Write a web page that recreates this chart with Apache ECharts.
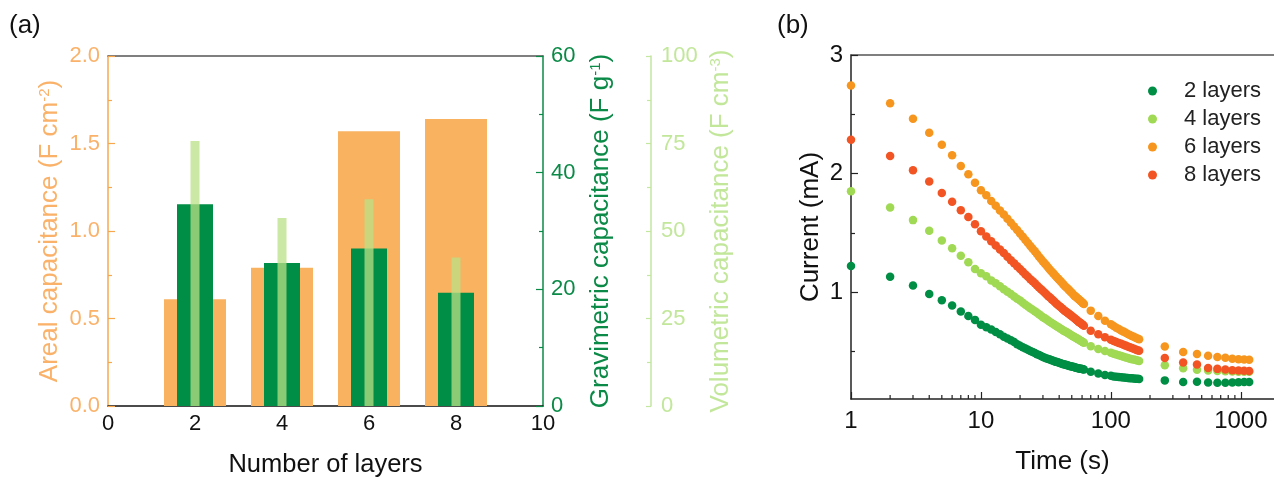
<!DOCTYPE html>
<html><head><meta charset="utf-8">
<script src="https://cdn.jsdelivr.net/npm/echarts@6/dist/echarts.min.js"></script>
<style>html,body{margin:0;padding:0;background:#fff}#c{width:1274px;height:480px}</style>
</head><body><div id="c"></div>
<script>
// ---- Panel (a) data ----
const layers = [2, 4, 6, 8];
const areal = [0.61, 0.79, 1.57, 1.64];          // F cm^-2
const gravimetric = [34.6, 24.5, 27.0, 19.4];     // F g^-1
const volumetric = [75.7, 53.7, 59.1, 42.4];      // F cm^-3

// ---- Panel (b) data ----
const times = [1,2,3,4,5,6,7,8,9,10,11,12,13,14,15,16,17,18,19,20,
  21,22,23,24,25,26,27,28,29,30,31,32,33,34,35,36,37,38,39,40,
  41,42,43,44,45,46,47,48,49,50,51,52,53,54,55,56,57,58,59,60,61,62,
  70,80,90,
  100,105,110,115,120,125,130,135,140,145,150,155,160,165,
  260,360,460,560,660,760,860,960,1060,1160];
const cur2 = [1.221,1.131,1.056,0.986,0.933,0.888,0.837,0.80,0.767,0.725,0.705,0.685,0.665,0.645,0.625,0.61,0.595,0.58,0.562,0.548,
  0.536,0.525,0.515,0.505,0.496,0.487,0.478,0.47,0.462,0.455,0.448,0.442,0.437,0.432,0.427,0.422,0.417,0.413,0.409,0.405,
  0.401,0.398,0.394,0.391,0.388,0.385,0.382,0.379,0.376,0.374,0.371,0.369,0.366,0.364,0.362,0.36,0.358,0.356,0.354,0.352,0.35,0.348,
  0.33,0.315,0.303,
  0.295,0.29,0.288,0.285,0.283,0.281,0.279,0.277,0.275,0.274,0.272,0.271,0.27,0.268,
  0.257,0.244,0.246,0.24,0.236,0.236,0.24,0.242,0.243,0.244];
const cur4 = [1.851,1.714,1.608,1.518,1.437,1.37,1.308,1.252,1.196,1.16,1.135,1.10,1.075,1.05,1.025,1.005,0.985,0.965,0.945,0.93,
  0.912,0.895,0.88,0.865,0.852,0.84,0.827,0.815,0.802,0.79,0.78,0.77,0.76,0.75,0.741,0.733,0.724,0.716,0.708,0.70,
  0.692,0.685,0.678,0.672,0.666,0.66,0.654,0.648,0.642,0.636,0.63,0.625,0.619,0.614,0.609,0.604,0.599,0.594,0.589,0.584,0.579,0.575,
  0.545,0.522,0.504,
  0.49,0.482,0.475,0.468,0.462,0.456,0.45,0.445,0.44,0.436,0.432,0.428,0.424,0.42,
  0.385,0.36,0.347,0.341,0.336,0.333,0.331,0.33,0.33,0.33];
const cur6 = [2.742,2.593,2.462,2.345,2.244,2.154,2.064,1.994,1.924,1.86,1.818,1.77,1.73,1.69,1.655,1.62,1.585,1.555,1.525,1.495,
  1.467,1.44,1.415,1.39,1.367,1.345,1.322,1.30,1.28,1.26,1.242,1.225,1.207,1.19,1.175,1.16,1.145,1.13,1.117,1.105,
  1.092,1.08,1.067,1.055,1.045,1.035,1.025,1.015,1.005,0.995,0.985,0.975,0.967,0.96,0.952,0.945,0.937,0.93,0.922,0.915,0.907,0.90,
  0.845,0.80,0.76,
  0.73,0.715,0.70,0.69,0.678,0.668,0.658,0.648,0.64,0.632,0.625,0.617,0.61,0.604,
  0.543,0.496,0.479,0.465,0.455,0.447,0.44,0.435,0.432,0.43];
const cur8 = [2.286,2.148,2.028,1.933,1.837,1.762,1.692,1.635,1.574,1.515,1.47,1.43,1.395,1.36,1.33,1.30,1.27,1.245,1.22,1.195,
  1.172,1.15,1.13,1.11,1.092,1.075,1.057,1.04,1.025,1.01,0.995,0.98,0.967,0.955,0.942,0.93,0.917,0.905,0.895,0.885,
  0.875,0.865,0.855,0.845,0.837,0.83,0.822,0.815,0.807,0.80,0.792,0.785,0.777,0.77,0.762,0.755,0.748,0.742,0.736,0.73,0.724,0.718,
  0.675,0.645,0.62,
  0.60,0.59,0.58,0.572,0.565,0.557,0.55,0.543,0.537,0.53,0.524,0.518,0.512,0.507,
  0.445,0.408,0.39,0.362,0.354,0.348,0.343,0.34,0.338,0.337];
const seriesNames = ['2 layers', '4 layers', '6 layers', '8 layers'];

// ---- tick labels ----
const yMajorB = [1, 2, 3];
const yMinorB = [0.5, 1.5, 2.5];
const xMinorB = [2,3,4,5,6,7,8,9,20,30,40,50,60,70,80,90,200,300,400,500,600,700,800,900];
const yMinB = 0.1, yMaxB = 3, xMaxB = 1800;

const FONT = 'Liberation Sans, Arial, sans-serif';
const ORANGE = '#f9b260', ORANGE_AX = '#f7a84e', ORANGE_TX = '#fab26a';
const GREEN = '#008d46', GREEN_AX = '#0b8a47';
const LGREEN = 'rgba(186,224,134,0.75)', LGREEN_AX = '#c3e6a0', LGREEN_TX = '#c2e79b';
const dotColors = ['#008e45', '#a0d953', '#f7961e', '#f25523'];

const chart = echarts.init(document.getElementById('c'));

function supRich(color) {
  return { sup: { fontSize: 15, color: color, verticalAlign: 'top', lineHeight: 18, fontFamily: FONT } };
}

const option = {
  animation: false,
  backgroundColor: '#fff',
  textStyle: { fontFamily: FONT },
  grid: [
    { left: 108, top: 56, width: 435, height: 350, containLabel: false, outerBoundsMode: 'none' },
    { left: 851, top: 55, right: 0, height: 344, containLabel: false, outerBoundsMode: 'none' }
  ],
  graphic: [
    { type: 'text', left: 9, top: 13, style: { text: '(a)', fontSize: 26, fill: '#111', fontFamily: FONT } },
    { type: 'text', left: 777, top: 13, style: { text: '(b)', fontSize: 26, fill: '#111', fontFamily: FONT } }
  ],
  legend: {
    orient: 'vertical', left: 1143, top: 75,
    itemWidth: 9, itemHeight: 9, itemGap: 6, icon: 'circle',
    data: seriesNames,
    textStyle: { fontSize: 22, color: '#222', fontFamily: FONT, padding: [0, 0, 0, 22] }
  },
  xAxis: [
    { gridIndex: 0, type: 'value', min: 0, max: 10, interval: 2, position: 'bottom',
      axisLine: { onZero: false, lineStyle: { color: '#111', width: 1.5 } },
      axisTick: { show: false }, splitLine: { show: false },
      axisLabel: { fontSize: 22, color: '#111', margin: 7, fontFamily: FONT },
      name: 'Number of layers', nameLocation: 'middle', nameGap: 46,
      nameTextStyle: { fontSize: 25.5, color: '#111', fontFamily: FONT } },
    { gridIndex: 0, type: 'value', min: 0, max: 10, show: false },
    { gridIndex: 0, type: 'value', min: 0, max: 10, show: false },
    { gridIndex: 0, type: 'value', min: 0, max: 10, position: 'top',
      axisLine: { onZero: false, lineStyle: { color: '#555', width: 1.5 } },
      axisTick: { show: false }, axisLabel: { show: false }, splitLine: { show: false } },
    { gridIndex: 1, type: 'log', logBase: 10, min: 1, max: xMaxB, position: 'bottom',
      axisLine: { onZero: false, lineStyle: { color: '#222', width: 1.5 } },
      axisTick: { inside: true, length: 7, lineStyle: { color: '#222', width: 1.2 } },
      axisLabel: { fontSize: 24, color: '#111', margin: 10, showMaxLabel: false, fontFamily: FONT,
        formatter: v => String(Math.round(v)) },
      splitLine: { show: false },
      name: 'Time (s)', nameLocation: 'middle', nameGap: 50,
      nameTextStyle: { fontSize: 26, color: '#111', fontFamily: FONT } },
    { gridIndex: 1, type: 'log', logBase: 10, min: 1, max: xMaxB, position: 'top',
      axisLine: { onZero: false, lineStyle: { color: '#555', width: 1.5 } },
      axisTick: { show: false }, axisLabel: { show: false }, splitLine: { show: false } }
  ],
  yAxis: [
    { gridIndex: 0, type: 'value', position: 'left', min: 0, max: 2, interval: 0.5,
      axisLine: { show: true, onZero: false, lineStyle: { color: ORANGE_AX, width: 1.5 } },
      axisTick: { show: true, inside: true, length: 7, lineStyle: { color: ORANGE_AX, width: 1.2 } },
      minorTick: { show: true, splitNumber: 2, length: 4, lineStyle: { color: ORANGE_AX, width: 1.2 } },
      splitLine: { show: false },
      axisLabel: { fontSize: 22, color: ORANGE_TX, margin: 8, fontFamily: FONT, formatter: v => v.toFixed(1) },
      name: 'Areal capacitance (F cm{sup|-2})', nameLocation: 'middle', nameGap: 45,
      nameTextStyle: { fontSize: 26, color: ORANGE_TX, fontFamily: FONT, rich: supRich(ORANGE_TX) } },
    { gridIndex: 0, type: 'value', position: 'right', min: 0, max: 60, interval: 20,
      axisLine: { show: true, onZero: false, lineStyle: { color: GREEN_AX, width: 1.5 } },
      axisTick: { show: true, inside: true, length: 7, lineStyle: { color: GREEN_AX, width: 1.2 } },
      minorTick: { show: true, splitNumber: 2, length: 4, lineStyle: { color: GREEN_AX, width: 1.2 } },
      splitLine: { show: false },
      axisLabel: { fontSize: 22, color: GREEN_AX, margin: 8, fontFamily: FONT },
      name: 'Gravimetric capacitance (F g{sup|-1})', nameLocation: 'middle', nameGap: 45,
      nameTextStyle: { fontSize: 26, color: GREEN_AX, fontFamily: FONT, rich: supRich(GREEN_AX) } },
    { gridIndex: 0, type: 'value', position: 'right', offset: 108, min: 0, max: 100, interval: 25,
      axisLine: { show: true, onZero: false, lineStyle: { color: LGREEN_AX, width: 1.5 } },
      axisTick: { show: true, inside: true, length: 5, lineStyle: { color: LGREEN_AX, width: 1.2 } },
      minorTick: { show: true, splitNumber: 2, length: 4, lineStyle: { color: LGREEN_AX, width: 1.2 } },
      splitLine: { show: false },
      axisLabel: { fontSize: 22, color: LGREEN_TX, margin: 10, fontFamily: FONT },
      name: 'Volumetric capacitance (F cm{sup|-3})', nameLocation: 'middle', nameGap: 57,
      nameTextStyle: { fontSize: 26, color: LGREEN_TX, fontFamily: FONT, rich: supRich(LGREEN_TX) } },
    { gridIndex: 1, type: 'value', position: 'left', min: yMinB, max: yMaxB,
      axisLine: { show: true, onZero: false, lineStyle: { color: '#222', width: 1.5 } },
      axisTick: { show: true, inside: true, length: 7, customValues: yMajorB, lineStyle: { color: '#222', width: 1.2 } },
      splitLine: { show: false },
      axisLabel: { fontSize: 24, color: '#111', margin: 8, customValues: yMajorB, fontFamily: FONT,
        formatter: v => (Math.abs(v - Math.round(v)) < 1e-9 ? String(Math.round(v)) : '') },
      name: 'Current (mA)', nameLocation: 'middle', nameGap: 27,
      nameTextStyle: { fontSize: 26, color: '#111', fontFamily: FONT } },
    { gridIndex: 1, type: 'value', position: 'left', min: yMinB, max: yMaxB,
      axisLine: { show: false },
      axisTick: { show: true, inside: true, length: 4, customValues: yMinorB, lineStyle: { color: '#222', width: 1.2 } },
      axisLabel: { show: false }, splitLine: { show: false } }
  ],
  series: [
    { type: 'bar', name: 'Areal', xAxisIndex: 0, yAxisIndex: 0, barWidth: 62,
      itemStyle: { color: ORANGE }, data: layers.map((x, i) => [x, areal[i]]) },
    { type: 'bar', name: 'Gravimetric', xAxisIndex: 1, yAxisIndex: 1, barWidth: 36,
      itemStyle: { color: GREEN }, data: layers.map((x, i) => [x, gravimetric[i]]) },
    { type: 'bar', name: 'Volumetric', xAxisIndex: 2, yAxisIndex: 2, barWidth: 9,
      itemStyle: { color: LGREEN }, data: layers.map((x, i) => [x, volumetric[i]]) },
    ...[cur2, cur4, cur6, cur8].map((arr, k) => ({
      type: 'scatter', name: seriesNames[k], xAxisIndex: 4, yAxisIndex: 3,
      symbol: 'circle', symbolSize: 8.5,
      itemStyle: { color: dotColors[k], opacity: 1 },
      data: times.map((t, i) => [t, arr[i]])
    })),
    { type: 'custom', name: 'minorTicksX', xAxisIndex: 4, yAxisIndex: 3, silent: true, clip: false,
      data: xMinorB.map(v => [v, yMinB]),
      renderItem: (params, api) => {
        const p = api.coord([api.value(0), api.value(1)]);
        return { type: 'line', shape: { x1: p[0], y1: p[1], x2: p[0], y2: p[1] - 4 },
          style: { stroke: '#222', lineWidth: 1.2 } };
      } }
  ]
};
chart.setOption(option);
</script>
</body></html>
